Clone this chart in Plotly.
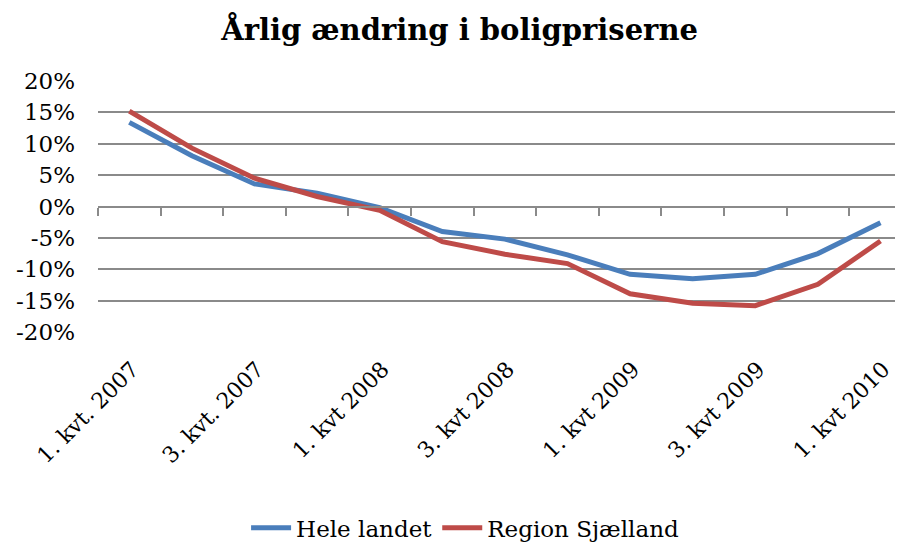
import plotly.graph_objects as go

quarters = ["1. kvt. 2007", "2. kvt. 2007", "3. kvt. 2007", "4. kvt. 2007",
            "1. kvt 2008", "2. kvt 2008", "3. kvt 2008", "4. kvt 2008",
            "1. kvt 2009", "2. kvt 2009", "3. kvt 2009", "4. kvt 2009",
            "1. kvt 2010"]
hele_landet = [13.4, 8.1, 3.6, 2.1, -0.2, -4.0, -5.2, -7.7, -10.8, -11.5, -10.8, -7.5, -2.6]
region_sjaelland = [15.2, 9.3, 4.5, 1.6, -0.6, -5.6, -7.6, -9.1, -13.9, -15.4, -15.8, -12.4, -5.5]
x_tick_idx = [0, 2, 4, 6, 8, 10, 12]
x_tick_labels = [quarters[i] for i in x_tick_idx]
y_ticks = [-20, -15, -10, -5, 0, 5, 10, 15, 20]
y_tick_labels = ["-20%", "-15%", "-10%", "-5%", "0%", "5%", "10%", "15%", "20%"]

idx = list(range(len(quarters)))
serif = "DejaVu Serif, Georgia, serif"

fig = go.Figure()
fig.add_trace(go.Scatter(x=idx, y=hele_landet, mode="lines", name="Hele landet",
                         line=dict(color="#4A7EBB", width=5), text=quarters))
fig.add_trace(go.Scatter(x=idx, y=region_sjaelland, mode="lines", name="Region Sjælland",
                         line=dict(color="#BE4B48", width=5), text=quarters))
# helper trace so the zero-line axis (with category tick marks) is rendered
fig.add_trace(go.Scatter(x=[0], y=[0], xaxis="x2", mode="markers", opacity=0,
                         showlegend=False, hoverinfo="skip"))

xr = [-0.5, 12.36]
fig.update_layout(
    width=895, height=534,
    paper_bgcolor="white", plot_bgcolor="white",
    margin=dict(l=90, r=0, t=73, b=210, autoexpand=False),
    title=dict(text="<b>Årlig ændring i boligpriserne</b>", x=0.5045, xanchor="center",
               y=0.959, yanchor="middle",
               font=dict(family=serif, size=29, color="black")),
    xaxis=dict(range=xr, tickmode="array", tickvals=x_tick_idx, ticktext=x_tick_labels,
               tickangle=-45, showgrid=False, zeroline=False, showline=False, ticks="",
               automargin=False, ticklabelstandoff=19, ticklabelshift=3,
               tickfont=dict(family=serif, size=22, color="black")),
    xaxis2=dict(range=xr, overlaying="x", anchor="free", position=0.5, side="bottom",
                showticklabels=False, showgrid=False, zeroline=False, automargin=False,
                showline=True, linecolor="#8a8a8a", linewidth=2,
                ticks="outside", tickmode="array",
                tickvals=[i - 0.5 for i in range(len(quarters) + 1)],
                ticklen=8, tickwidth=2, tickcolor="#8a8a8a"),
    yaxis=dict(range=[-20, 20], tickmode="array", tickvals=y_ticks, ticktext=y_tick_labels,
               showgrid=True, gridcolor="#8a8a8a", gridwidth=2, zeroline=False,
               showline=False, ticks="", ticklabelstandoff=22, automargin=False,
               tickfont=dict(family=serif, size=23, color="black")),
    legend=dict(orientation="h", x=0.456, xanchor="center", y=-0.78, yanchor="middle",
                font=dict(family=serif, size=23, color="black"),
                itemwidth=40),
    showlegend=True,
)

fig.write_html("out.html")
